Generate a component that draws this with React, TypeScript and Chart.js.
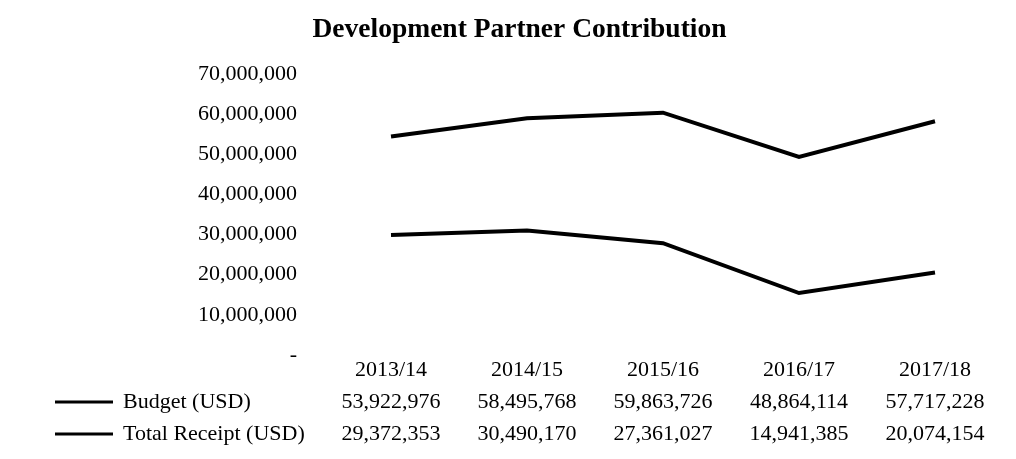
import React, { useEffect, useRef } from "react";
import { Chart, registerables } from "chart.js";

Chart.register(...registerables);

const categories = ["2013/14", "2014/15", "2015/16", "2016/17", "2017/18"];
const budget = [53922976, 58495768, 59863726, 48864114, 57717228];
const receipt = [29372353, 30490170, 27361027, 14941385, 20074154];
const seriesNames = ["Budget (USD)", "Total Receipt (USD)"];
const yTicks = [0, 10000000, 20000000, 30000000, 40000000, 50000000, 60000000, 70000000];

const FONT = "'Liberation Serif', 'Times New Roman', serif";
const LINE_H = 32;
const X_PAD = 1;

const fmt = (v: number) => v.toLocaleString("en-US");

const tablePlugin = {
  id: "tableLegend",
  afterDraw(chart: any) {
    const ctx = chart.ctx;
    const xs = chart.scales.x;
    ctx.save();
    ctx.font = `22px ${FONT}`;
    ctx.fillStyle = "#000";
    ctx.strokeStyle = "#000";
    ctx.lineWidth = 3;
    ctx.textBaseline = "middle";
    ctx.textAlign = "left";
    seriesNames.forEach((name, i) => {
      const y = xs.top + X_PAD + LINE_H * (i + 1.5);
      ctx.beginPath();
      ctx.moveTo(47, y);
      ctx.lineTo(105, y);
      ctx.stroke();
      ctx.fillText(name, 115, y);
    });
    ctx.restore();
  },
};

export default function App() {
  const ref = useRef<HTMLCanvasElement>(null);
  useEffect(() => {
    if (!ref.current) return;
    const chart = new Chart(ref.current, {
      type: "line",
      data: {
        labels: categories,
        datasets: [
          { label: seriesNames[0], data: budget, borderColor: "#000", backgroundColor: "#000", borderWidth: 4, pointRadius: 0, tension: 0 },
          { label: seriesNames[1], data: receipt, borderColor: "#000", backgroundColor: "#000", borderWidth: 4, pointRadius: 0, tension: 0 },
        ],
      },
      options: {
        animation: false,
        responsive: true,
        maintainAspectRatio: false,
        layout: { padding: { left: 96, right: 73, top: 5, bottom: 0 } },
        plugins: {
          legend: { display: false },
          tooltip: { enabled: false },
          title: {
            display: true,
            text: "Development Partner Contribution",
            color: "#000",
            font: { family: FONT, size: 27.5, weight: "bold" },
            padding: { top: 0, bottom: 26 },
          },
        },
        scales: {
          x: {
            offset: false,
            grid: { display: false, drawTicks: false },
            border: { display: false },
            ticks: {
              color: "#000",
              font: { family: FONT, size: 22, lineHeight: LINE_H / 22 },
              padding: X_PAD,
              maxRotation: 0,
              autoSkip: false,
              callback: (_v: any, i: number) => [categories[i], fmt(budget[i]), fmt(receipt[i])],
            },
          },
          y: {
            min: 0,
            max: 70000000,
            afterFit: (s: any) => { s.width = 287; },
            afterBuildTicks: (s: any) => { s.ticks = yTicks.map((v) => ({ value: v })); },
            grid: { display: false, drawTicks: true, tickLength: 90, color: "rgba(0,0,0,0)" },
            border: { display: false },
            ticks: {
              color: "#000",
              font: { family: FONT, size: 22 },
              padding: 4,
              labelOffset: 2,
              callback: (v: any) => (v === 0 ? "-" : fmt(Number(v))),
            },
          },
        },
      },
      plugins: [tablePlugin],
    });
    return () => chart.destroy();
  }, []);
  return (
    <div style={{ width: 1000, height: 443, position: "relative" }}>
      <canvas ref={ref} />
    </div>
  );
}
